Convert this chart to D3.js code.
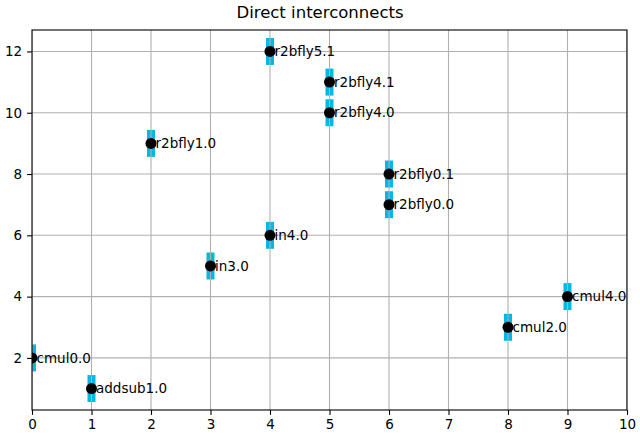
<!DOCTYPE html>
<html>
<head>
<meta charset="utf-8">
<script src="https://cdn.jsdelivr.net/npm/d3@7"></script>
<style>
  body { margin: 0; background: #fff; }
  text { font-family: "DejaVu Sans", sans-serif; }
</style>
</head>
<body>
<div id="chart"></div>
<script>
// unit names and their placement (slot, row)
const names = ["cmul0.0", "addsub1.0", "r2bfly1.0", "in3.0", "in4.0", "r2bfly5.1",
               "r2bfly4.1", "r2bfly4.0", "r2bfly0.1", "r2bfly0.0", "cmul2.0", "cmul4.0"];
const xs = [0, 1, 2, 3, 4, 4, 5, 5, 6, 6, 8, 9];
const ys = [2, 1, 9, 5, 6, 12, 11, 10, 8, 7, 3, 4];
const xTicks = [0, 1, 2, 3, 4, 5, 6, 7, 8, 9, 10];
const yTicks = [2, 4, 6, 8, 10, 12];

const W = 640, H = 439;
const margin = {left: 32, right: 13, top: 30, bottom: 29};

let svg = d3.select("#chart").append("svg")
  .attr("width", W).attr("height", H);

let xScale = d3.scaleLinear().domain([0, 10]).range([margin.left, W - margin.right]);
let yScale = d3.scaleLinear().domain([0.3, 12.7]).range([H - margin.bottom, margin.top]);

// clip to axes box
svg.append("clipPath").attr("id", "clip")
  .append("rect")
  .attr("x", margin.left).attr("y", margin.top)
  .attr("width", W - margin.left - margin.right)
  .attr("height", H - margin.top - margin.bottom);

let plot = svg.append("g").attr("clip-path", "url(#clip)");

//cyan bars behind each point
plot.selectAll(".bar")
  .data(names)
  .enter().append("rect")
  .attr("class", "bar")
  .attr("x", (d, i) => xScale(xs[i]) - 4)
  .attr("y", (d, i) => yScale(ys[i] + 0.44))
  .attr("width", 8)
  .attr("height", (d, i) => yScale(ys[i] - 0.44) - yScale(ys[i] + 0.44))
  .style("fill", "#00b8e6");

// grid lines
let grid = plot.append("g");
grid.selectAll(".vx").data(xTicks).enter().append("line")
  .attr("x1", d => xScale(d)).attr("x2", d => xScale(d))
  .attr("y1", margin.top).attr("y2", H - margin.bottom)
  .attr("stroke", "#b0b0b0").attr("stroke-width", 1.1);
grid.selectAll(".hy").data(yTicks).enter().append("line")
  .attr("x1", margin.left).attr("x2", W - margin.right)
  .attr("y1", d => yScale(d)).attr("y2", d => yScale(d))
  .attr("stroke", "#b0b0b0").attr("stroke-width", 1.1);

// black points
plot.selectAll(".dot")
  .data(names)
  .enter().append("circle")
  .attr("cx", (d, i) => xScale(xs[i]))
  .attr("cy", (d, i) => yScale(ys[i]))
  .attr("r", 5.5)
  .style("fill", "#000");

// labels
svg.selectAll(".lbl")
  .data(names)
  .enter().append("text")
  .attr("x", (d, i) => xScale(xs[i]) + 4.5)
  .attr("y", (d, i) => yScale(ys[i]))
  .attr("dy", "0.35em")
  .style("font-size", "13.5px")
  .text(d => d);

// axes
let x_axis = d3.axisBottom(xScale).tickValues(xTicks).tickSize(4.9).tickPadding(4.9).tickFormat(d3.format("d"));
let y_axis = d3.axisLeft(yScale).tickValues(yTicks).tickSize(4.9).tickPadding(4.9);

let gx = svg.append("g")
  .attr("transform", "translate(0," + (H - margin.bottom) + ")")
  .call(x_axis);
let gy = svg.append("g")
  .attr("transform", "translate(" + margin.left + ",0)")
  .call(y_axis);
[gx, gy].forEach(g => {
  g.select(".domain").remove();
  g.selectAll("line").attr("stroke", "#000").attr("stroke-width", 1.1);
  g.selectAll("text").style("font-size", "13.5px").style("font-family", "DejaVu Sans").attr("fill", "#000");
});

// frame
svg.append("rect")
  .attr("x", margin.left).attr("y", margin.top)
  .attr("width", W - margin.left - margin.right)
  .attr("height", H - margin.top - margin.bottom)
  .attr("fill", "none").attr("stroke", "#000").attr("stroke-width", 1.1);

// title
svg.append("text")
  .attr("x", W / 2)
  .attr("y", 18)
  .attr("text-anchor", "middle")
  .style("font-size", "16.5px")
  .text("Direct interconnects");
</script>
</body>
</html>
